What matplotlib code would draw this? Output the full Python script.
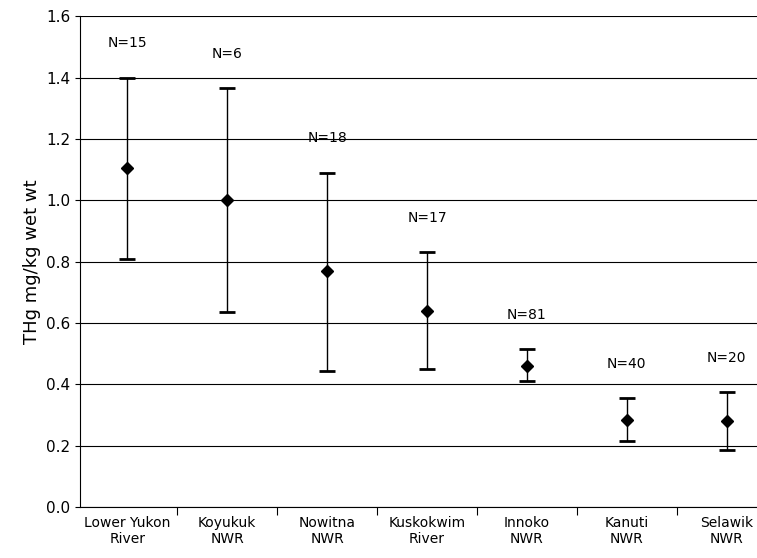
import matplotlib.pyplot as plt
import numpy as np

sites = ["Lower Yukon\nRiver", "Koyukuk\nNWR", "Nowitna\nNWR", "Kuskokwim\nRiver",
         "Innoko\nNWR", "Kanuti\nNWR", "Selawik\nNWR"]
means = [1.105, 1.00, 0.77, 0.64, 0.46, 0.285, 0.28]
upper = [1.40, 1.365, 1.09, 0.83, 0.515, 0.355, 0.375]
lower = [0.81, 0.635, 0.445, 0.45, 0.41, 0.215, 0.185]
n_labels = ["N=15", "N=6", "N=18", "N=17", "N=81", "N=40", "N=20"]

fig = plt.figure(figsize=(7.57, 5.58), dpi=100)
ax = fig.add_axes([0.106, 0.091, 0.92, 0.88])

x = np.arange(len(sites))
m = np.array(means)
yerr = [m - np.array(lower), np.array(upper) - m]
ax.errorbar(x, m, yerr=yerr, fmt="D", color="black", ms=6, capsize=6,
            capthick=2, elinewidth=1, zorder=3)
for xi, up, lab in zip(x, upper, n_labels):
    ax.text(xi, up + 0.09, lab, ha="center", va="bottom", fontsize=10)

ax.set_xlim(-0.47, 6.3)
ax.set_ylim(0, 1.6)
ax.set_yticks(np.arange(0, 1.61, 0.2))
ax.set_yticklabels([f"{v:.1f}" for v in np.arange(0, 1.61, 0.2)], fontsize=11)
ax.yaxis.grid(True, color="black", lw=0.8)
ax.set_axisbelow(True)
ax.set_xticks(x + 0.5, minor=False)
ax.set_xticklabels([])
ax.set_xticks(x, minor=True)
ax.set_xticklabels(sites, minor=True, fontsize=10)
ax.tick_params(axis="x", which="minor", length=0, pad=6)
ax.tick_params(axis="x", which="major", length=6, direction="out")
ax.set_ylabel("THg mg/kg wet wt", fontsize=13)
for s in ["top", "right"]:
    ax.spines[s].set_visible(False)
fig.savefig("out.png", dpi=100)
